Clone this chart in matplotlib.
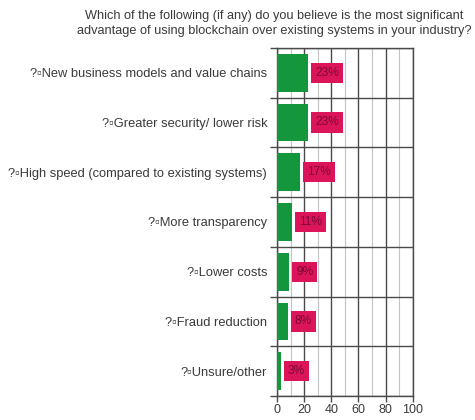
import matplotlib
matplotlib.use("Agg")
import matplotlib.pyplot as plt
import numpy as np

plt.rcParams['font.family'] = ['Liberation Sans', 'DejaVu Sans']

title = ("Which of the following (if any) do you believe is the most significant\n"
         "advantage of using blockchain over existing systems in your industry?")
categories = [
    "New business models and value chains",
    "Greater security/ lower risk",
    "High speed (compared to existing systems)",
    "More transparency",
    "Lower costs",
    "Fraud reduction",
    "Unsure/other",
]
values = [23, 23, 17, 11, 9, 8, 3]
x_ticks = [0, 20, 40, 60, 80, 100]

GREEN = "#14963c"
PINK = "#dc145a"
LABEL_TEXT = "#7a0a36"
DARK = "#4a4a4a"
LIGHT = "#c4c4c4"

fig = plt.figure(figsize=(4.75, 4.2), dpi=100)
ax = fig.add_axes([0.583, 0.057, 0.286, 0.829])

y = np.arange(len(categories))
ax.barh(y, values, height=0.76, color=GREEN, zorder=3)

for yi, v in zip(y, values):
    ax.annotate(f"{v}%", xy=(v, yi), xytext=(5.0, 0), textcoords="offset points",
                ha="left", va="center", fontsize=8.6, color=LABEL_TEXT, zorder=4,
                bbox=dict(boxstyle="square,pad=0.35", facecolor=PINK, edgecolor="none"))

ax.set_xlim(0, 100)
ax.set_ylim(len(categories) - 0.5, -0.5)

ax.set_xticks(x_ticks)
ax.set_xticks(np.arange(10, 100, 20), minor=True)
ax.set_yticks(y)
ax.set_yticklabels(["?\u25ab" + c for c in categories])
ax.set_yticks(np.arange(-0.5, len(categories)), minor=True)

ax.grid(True, axis="x", which="major", color=DARK, linewidth=1.0, zorder=0)
ax.grid(True, axis="x", which="minor", color=LIGHT, linewidth=0.8, zorder=0)
ax.grid(True, axis="y", which="minor", color=DARK, linewidth=1.0, zorder=0)
ax.grid(False, axis="y", which="major")

ax.tick_params(axis="y", which="major", length=0, pad=7, labelsize=9.3, labelcolor="#3a3a3a")
ax.tick_params(axis="y", which="minor", length=5, color=DARK, width=1.0)
ax.tick_params(axis="x", which="major", length=4, color=DARK, width=1.0,
               labelsize=9, labelcolor="#3a3a3a", pad=2)
ax.tick_params(axis="x", which="minor", length=0)

for s in ax.spines.values():
    s.set_color(DARK)
    s.set_linewidth(1.0)

fig.text(0.577, 0.975, title, ha="center", va="top", fontsize=9.2,
         color="#3a3a3a", linespacing=1.3)

fig.savefig("out.png", dpi=100, facecolor="white")
